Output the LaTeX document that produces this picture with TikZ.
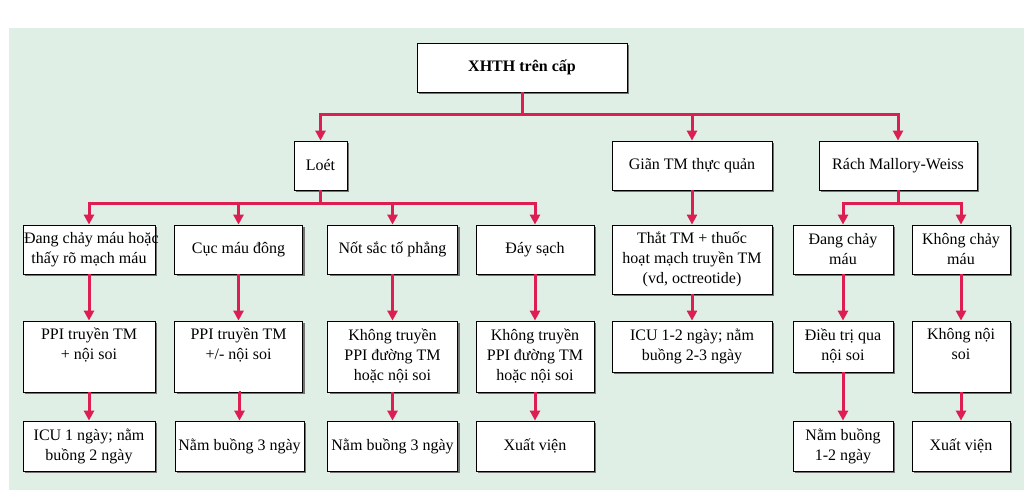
\documentclass[tikz,border=0pt]{standalone}
\usepackage{fontspec}
\setmainfont{Liberation Serif}
\usetikzlibrary{arrows.meta,shadows}
\definecolor{mint}{RGB}{223,239,230}
\definecolor{bloodred}{RGB}{220,30,82}
\tikzset{
  box/.style={draw,line width=0.8pt,fill=white,inner sep=0pt,align=center,
    drop shadow={shadow xshift=2pt,shadow yshift=-2pt,fill=black!55,opacity=1}},
  link/.style={draw=bloodred,line width=3pt,-{Triangle[width=10pt,length=10pt]}}
}
\begin{document}
\begin{tikzpicture}[x=1pt,y=-1pt,font=\fontsize{16pt}{20pt}\selectfont]
\def\colA{89}
\def\colB{238.5}
\def\colC{392.5}
\def\colD{535}
\def\colE{692}
\def\colF{843}
\def\colG{961}

\useasboundingbox (0,0) rectangle (1036,502);
\fill[white] (0,0) rectangle (1036,502);
\fill[mint] (9,28) rectangle (1024,490);

\node[box,minimum width=210pt,minimum height=49pt] (root) at (522,67.5) {\bfseries XHTH trên cấp};

\node[box,minimum width=53pt,minimum height=49pt] (loet) at (320.5,165.5) {Loét};
\node[box,minimum width=160pt,minimum height=49pt] (gian) at (\colE,165.5) {Giãn TM thực quản};
\node[box,minimum width=158pt,minimum height=49pt] (rach) at (898,165.5) {Rách Mallory-Weiss};

\node[box,minimum width=132pt,minimum height=49pt] (chay) at (\colA,249.5) {\makebox[130pt][l]{Đang chảy máu hoặc}\\thấy rõ mạch máu};
\node[box,minimum width=128pt,minimum height=49pt] (cuc) at (\colB,249.5) {Cục máu đông};
\node[box,minimum width=130pt,minimum height=49pt] (not) at (\colC,249.5) {Nốt sắc tố phẳng};
\node[box,minimum width=118pt,minimum height=49pt] (day) at (\colD,249.5) {Đáy sạch};
\node[box,minimum width=160pt,minimum height=69pt] (that) at (\colE,259.5) {Thắt TM + thuốc\\hoạt mạch truyền TM\\(vd, octreotide)};
\node[box,minimum width=100pt,minimum height=49pt] (mwchay) at (\colF,249.5) {Đang chảy\\máu};
\node[box,minimum width=98pt,minimum height=49pt] (mwkhong) at (\colG,249.5) {Không chảy\\máu};

\node[box,minimum width=132pt,minimum height=71pt] (chayppi) at (\colA,356.5) {PPI truyền TM\\+ nội soi\\\strut};
\node[box,minimum width=128pt,minimum height=71pt] (cucppi) at (\colB,356.5) {PPI truyền TM\\+/- nội soi\\\strut};
\node[box,minimum width=130pt,minimum height=71pt] (notppi) at (\colC,356.5) {Không truyền\\PPI đường TM\\hoặc nội soi};
\node[box,minimum width=118pt,minimum height=71pt] (dayppi) at (\colD,356.5) {Không truyền\\PPI đường TM\\hoặc nội soi};
\node[box,minimum width=160pt,minimum height=51pt] (thaticu) at (\colE,346.5) {ICU 1-2 ngày; nằm\\buồng 2-3 ngày};
\node[box,minimum width=100pt,minimum height=51pt] (mwsoi) at (\colF,346.5) {Điều trị qua\\nội soi};
\node[box,minimum width=98pt,minimum height=71pt] (mwkhongsoi) at (\colG,356.5) {Không nội\\soi\\\strut};

\node[box,minimum width=132pt,minimum height=50pt] (chayend) at (\colA,446) {ICU 1 ngày; nằm\\buồng 2 ngày};
\node[box,minimum width=129pt,minimum height=50pt] (cucend) at (239.5,446) {Nằm buồng 3 ngày};
\node[box,minimum width=130pt,minimum height=50pt] (notend) at (\colC,446) {Nằm buồng 3 ngày};
\node[box,minimum width=118pt,minimum height=50pt] (dayend) at (\colD,446) {Xuất viện};
\node[box,minimum width=100pt,minimum height=50pt] (mwsoiend) at (\colF,446) {Nằm buồng\\1-2 ngày};
\node[box,minimum width=98pt,minimum height=50pt] (mwkhongend) at (\colG,446) {Xuất viện};

\coordinate (rootbus) at (522,115);
\coordinate (loetbus) at (320.5,204);
\coordinate (rachbus) at (898,204);

\draw[link] (root.south) -- (rootbus) -| (loet.north);
\draw[link] (root.south) -- (rootbus) -| (gian.north);
\draw[link] (root.south) -- (rootbus) -| (rach.north);

\draw[link] (loet.south) -- (loetbus) -| (chay.north);
\draw[link] (loet.south) -- (loetbus) -| (cuc.north);
\draw[link] (loet.south) -- (loetbus) -| (not.north);
\draw[link] (loet.south) -- (loetbus) -| (day.north);
\draw[link] (gian.south) -- (that.north);
\draw[link] (rach.south) -- (rachbus) -| (mwchay.north);
\draw[link] (rach.south) -- (rachbus) -| (mwkhong.north);

\draw[link] (chay.south) -- (chayppi.north);
\draw[link] (cuc.south) -- (cucppi.north);
\draw[link] (not.south) -- (notppi.north);
\draw[link] (day.south) -- (dayppi.north);
\draw[link] (that.south) -- (thaticu.north);
\draw[link] (mwchay.south) -- (mwsoi.north);
\draw[link] (mwkhong.south) -- (mwkhongsoi.north);

\draw[link] (chayppi.south) -- (chayend.north);
\draw[link] (cucppi.south) -- (cucend.north |- cucppi.south) -- (cucend.north);
\draw[link] (notppi.south) -- (notend.north);
\draw[link] (dayppi.south) -- (dayend.north);
\draw[link] (mwsoi.south) -- (mwsoiend.north);
\draw[link] (mwkhongsoi.south) -- (mwkhongend.north);
\end{tikzpicture}
\end{document}
